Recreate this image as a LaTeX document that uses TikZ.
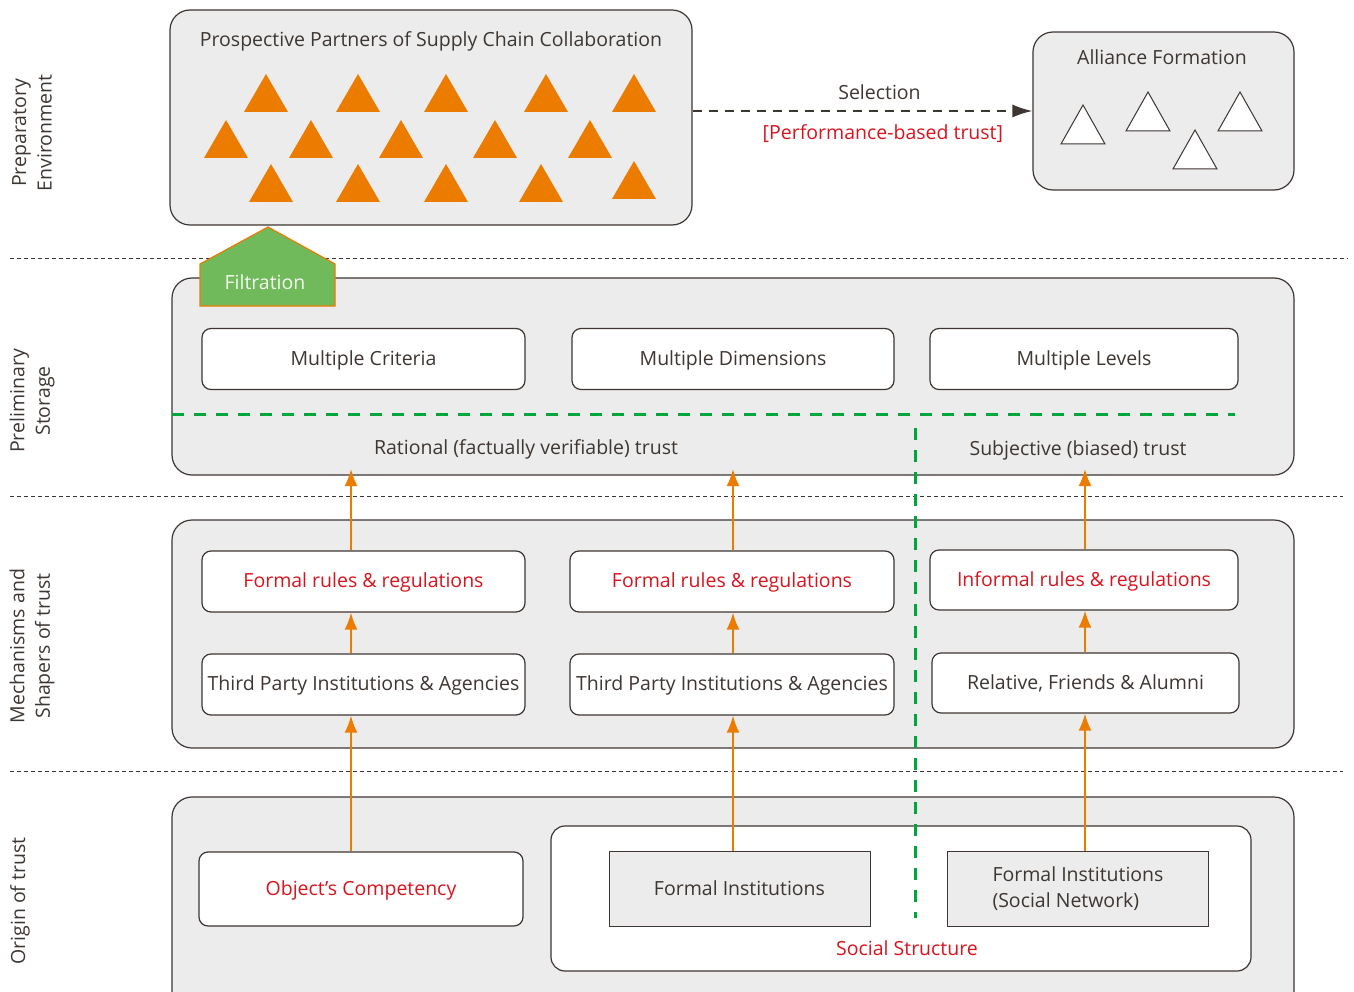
\documentclass[tikz,border=0pt]{standalone}
\usepackage{fontspec}
\setmainfont{Open Sans}
\usetikzlibrary{arrows,arrows.meta,positioning}
\definecolor{inkC}{RGB}{62,54,50}
\definecolor{paneC}{RGB}{236,236,236}
\definecolor{orangeC}{RGB}{236,124,0}
\definecolor{redC}{RGB}{218,20,30}
\definecolor{greenD}{RGB}{0,166,60}
\definecolor{greenF}{RGB}{112,186,92}

\begin{document}
\begin{tikzpicture}[x=1pt,y=-1pt,
		font=\fontsize{19.5}{25.5}\selectfont,text=inkC,
		zone/.style={draw=inkC,fill=paneC,line width=1.2pt,rounded corners=20pt},
		item node/.style={draw=inkC,fill=white,line width=1.2pt,rounded corners=9pt,
			minimum width=323pt,minimum height=61pt,inner sep=0pt,text depth=2pt},
		inst node/.style={draw=inkC,fill=paneC,line width=1pt,
			minimum width=261pt,minimum height=75pt,align=left},
		red node/.style={item node,text=redC},
		flow/.style={-{Latex[length=17pt,width=13pt]},draw=orangeC,line width=2pt},
		sep/.style={draw=inkC,line width=0.8pt,dash pattern=on 4pt off 3pt},
		trust/.style={draw=greenD,line width=3pt,dash pattern=on 12pt off 10pt},
		side node/.style={rotate=90,align=center,inner sep=0pt}]
	\useasboundingbox (0,0) rectangle (1354,992);
	%
	% Row labels on the left.
	\node[side node] (prep) at (32,133) {Preparatory\\Environment};
	\node[side node] (stor) at (32,401) {Preliminary\\Storage};
	\node[side node] (mech) at (32,646) {Mechanisms and\\Shapers of trust};
	\node[side node] (orig) at (20,901) {Origin of trust};
	%
	% Separators between the rows.
	\draw[sep] (10,258) -- (1348,258);
	\draw[sep] (10,496) -- (1343,496);
	\draw[sep] (10,771) -- (1343,771);
	%
	% Preparatory environment.
	\node[zone,minimum width=522pt,minimum height=215pt] (pros) at (431,117.5) {};
	\node (prostitle) at (431,41.5) {Prospective Partners of Supply Chain Collaboration};
	\foreach \x/\y in {266/74,358/74,446/74,546/74,634/74,
		226/120,311/120,401/120,495/120,590/120,
		271/164,358/164,446/164,541/164,634/161}
		\fill[orangeC] (\x,\y) -- ++(22,38) -- ++(-44,0) -- cycle;
	\node[zone,minimum width=261pt,minimum height=158pt] (alli) at (1163.5,111) {};
	\node (allititle) at (1162,57) {Alliance Formation};
	\foreach \x/\y in {1083/105,1148/92,1195/130,1240/92}
		\draw[inkC,fill=white,line width=1pt] (\x,\y) -- ++(22,39) -- ++(-44,0) -- cycle;
	\draw[-{Latex[length=20pt,width=13pt]},draw=inkC,line width=1.8pt,dash pattern=on 9pt off 7pt]
		(pros.east |- alli.west) -- (alli.west)
		node[pos=0.55,above=10pt,inner sep=0pt] (sel) {Selection}
		node[pos=0.56,below=13pt,inner sep=0pt,text=redC] (perf) {[Performance-based trust]};
	%
	% Preliminary storage.
	\node[zone,minimum width=1122pt,minimum height=197pt] (store) at (733,376.5) {};
	\filldraw[fill=greenF,draw=orangeC,line width=1.2pt]
		(200,306) -- (200,264) -- (268,227) -- (335,264) -- (335,306) -- cycle;
	\node[text=white!92!greenF] (filt) at (265,282) {Filtration};
	\node[item node] (crit) at (363.5,359) {Multiple Criteria};
	\node[item node,minimum width=322pt] (dims) at (733,359) {Multiple Dimensions};
	\node[item node,minimum width=308pt] (levs) at (1084,359) {Multiple Levels};
	\node (rat) at (526,449) {Rational (factually verifiable) trust};
	\node (subj) at (1078,450) {Subjective (biased) trust};
	%
	% Mechanisms and shapers of trust.
	\node[zone,minimum width=1122pt,minimum height=228pt] (mechbox) at (733,634) {};
	\node[red node] (fr1) at (363.5,581.5) {Formal rules \& regulations};
	\node[red node,minimum width=324pt] (fr2) at (732,581.5) {Formal rules \& regulations};
	\node[red node,minimum width=308pt,minimum height=60pt] (ir) at (1084,580) {Informal rules \& regulations};
	\node[item node] (tp1) at (363.5,684.5) {Third Party Institutions \& Agencies};
	\node[item node,minimum width=324pt] (tp2) at (732,684.5) {Third Party Institutions \& Agencies};
	\node[item node,minimum width=307pt,minimum height=60pt] (rel) at (1085.5,683) {Relative, Friends \& Alumni};
	%
	% Origin of trust.
	\node[zone,minimum width=1122pt,minimum height=216pt] (origbox) at (733,905) {};
	\node[red node,minimum width=324pt,minimum height=74pt] (obj) at (361,889) {Object's Competency};
	\node[draw=inkC,fill=white,line width=1.2pt,rounded corners=14pt,
		minimum width=700pt,minimum height=145pt] (soc) at (901,898.5) {};
	\node[inst node] (fi) at (739.5,888.5) {Formal Institutions};
	\node[inst node] (fisn) at (1078,888.5) {Formal Institutions\\(Social Network)};
	\node[text=redC] (socl) at (907,948) {Social Structure};
	%
	% Orange arrows from the origin up to the storage.
	\coordinate (colA) at (351,469);
	\coordinate (colB) at (733,469);
	\coordinate (colC) at (1085,469);
	\draw[flow] (colA |- obj.north) -- (colA |- tp1.south);
	\draw[flow] (colA |- tp1.north) -- (colA |- fr1.south);
	\draw[flow] (colA |- fr1.north) -- (colA);
	\draw[flow] (colB |- fi.north) -- (colB |- tp2.south);
	\draw[flow] (colB |- tp2.north) -- (colB |- fr2.south);
	\draw[flow] (colB |- fr2.north) -- (colB);
	\draw[flow] (colC |- fisn.north) -- (colC |- rel.south);
	\draw[flow] (colC |- rel.north) -- (colC |- ir.south);
	\draw[flow] (colC |- ir.north) -- (colC);
	%
	% Green line between rational and subjective trust.
	\draw[trust] (172,414) -- (1235,414);
	\draw[trust] (915,428) -- (915,918);
\end{tikzpicture}
\end{document}
